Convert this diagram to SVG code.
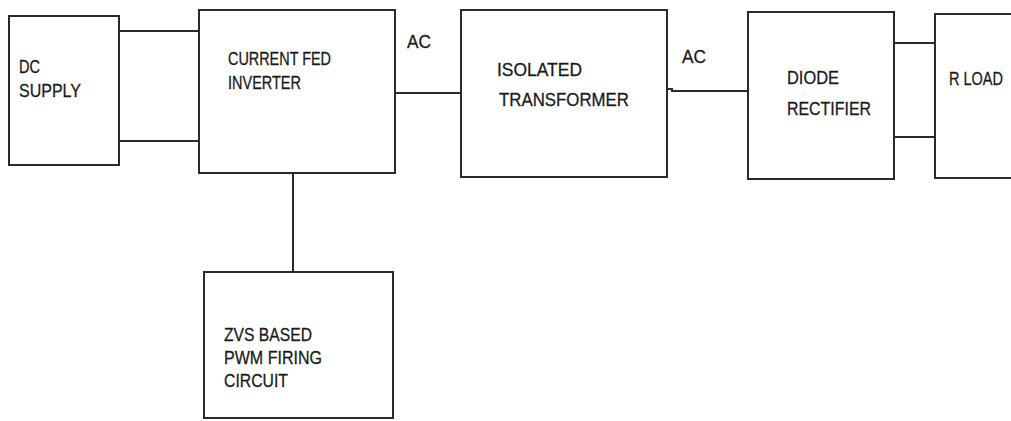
<svg xmlns="http://www.w3.org/2000/svg" width="1011" height="421" viewBox="0 0 1011 421">
<style>
.box{fill:#fff;stroke:#2a2a2a;stroke-width:2}
.ln{fill:none;stroke:#2a2a2a;stroke-width:2}
text{font-family:"Liberation Sans",Arial,sans-serif;font-size:19px;fill:#1a1a1a;stroke:#1a1a1a;stroke-width:0.3}
</style>
<rect width="1011" height="421" fill="#fff"/>
<g id="connectors">
<line class="ln" x1="119" y1="31" x2="199" y2="31"/>
<line class="ln" x1="119" y1="141" x2="199" y2="141"/>
<line class="ln" x1="396" y1="93" x2="461" y2="93"/>
<polyline class="ln" points="667,89 672,89 672,91 756,91"/>
<line class="ln" x1="895" y1="43" x2="935" y2="43"/>
<line class="ln" x1="895" y1="137" x2="935" y2="137"/>
<line class="ln" x1="293" y1="173" x2="293" y2="277"/>
</g>
<g id="dc-supply">
<rect class="box" x="9" y="16" width="110" height="149"/>
<text x="19" y="73" textLength="21" lengthAdjust="spacingAndGlyphs">DC</text>
<text x="19" y="97" textLength="62" lengthAdjust="spacingAndGlyphs">SUPPLY</text>
</g>
<g id="inverter">
<rect class="box" x="199" y="10" width="196" height="163"/>
<text x="228" y="65" textLength="103" lengthAdjust="spacingAndGlyphs">CURRENT FED</text>
<text x="228" y="89" textLength="73" lengthAdjust="spacingAndGlyphs">INVERTER</text>
</g>
<text x="407" y="48" textLength="24" lengthAdjust="spacingAndGlyphs">AC</text>
<g id="transformer">
<rect class="box" x="461" y="10" width="206" height="167"/>
<text x="497" y="76" textLength="85" lengthAdjust="spacingAndGlyphs">ISOLATED</text>
<text x="499" y="106" textLength="130" lengthAdjust="spacingAndGlyphs">TRANSFORMER</text>
</g>
<text x="682" y="63" textLength="24" lengthAdjust="spacingAndGlyphs">AC</text>
<g id="rectifier">
<rect class="box" x="748" y="12" width="146" height="167"/>
<line class="ln" x1="894" y1="14" x2="894" y2="179" stroke-width="3"/>
<text x="787" y="84" textLength="52" lengthAdjust="spacingAndGlyphs">DIODE</text>
<text x="787" y="115" textLength="84" lengthAdjust="spacingAndGlyphs">RECTIFIER</text>
</g>
<g id="r-load">
<polyline class="ln" points="1011,14 935,14 935,178 1011,178"/>
<text x="949" y="85" textLength="54" lengthAdjust="spacingAndGlyphs">R LOAD</text>
</g>
<g id="zvs-pwm">
<rect class="box" x="204" y="272" width="189" height="146"/>
<text x="224" y="341" textLength="88" lengthAdjust="spacingAndGlyphs">ZVS BASED</text>
<text x="224" y="364" textLength="98" lengthAdjust="spacingAndGlyphs">PWM FIRING</text>
<text x="224" y="387" textLength="64" lengthAdjust="spacingAndGlyphs">CIRCUIT</text>
</g>
</svg>
